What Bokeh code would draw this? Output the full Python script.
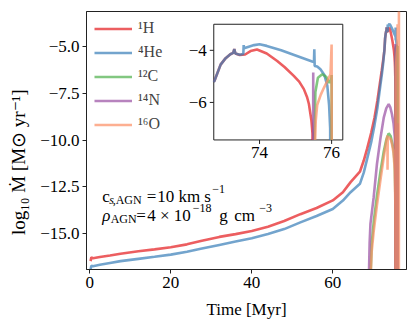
import math
from bokeh.plotting import figure
from bokeh.models import Range1d, FixedTicker, Label, Legend, LegendItem
from bokeh.embed import file_html
from bokeh.resources import INLINE

# ---------------- data ----------------
species = ["¹H", "⁴He", "¹²C", "¹⁴N", "¹⁶O"]
colors = ["#e41a1c", "#377eb8", "#4daf4a", "#984ea3", "#fc8d62"]

t_H = [0.2, 0.4, 0.8, 2.5, 5, 7.6, 12, 16, 20, 24, 27.4, 32, 36, 40, 44, 48, 52, 56, 60, 62.5,
       64.4, 66.7, 67.65, 68.5, 69.5, 70.3, 71.0, 71.6, 72.1, 72.45, 72.75, 72.92, 73.06, 73.19,
       73.27, 73.3, 73.33, 73.45, 73.6, 73.75, 73.93, 74.2, 74.49, 74.7, 74.95, 75.1, 75.23,
       75.32, 75.37, 75.44, 75.47, 75.49]
m_H = [-16.5, -16.3, -16.35, -16.28, -16.2, -16.1, -15.97, -15.87, -15.76, -15.6, -15.42, -15.2,
       -15.05, -14.88, -14.65, -14.35, -13.98, -13.65, -13.24, -12.8, -12.26, -11.7, -11.1, -10.45,
       -9.6, -8.8, -7.9, -7.0, -6.25, -5.7, -5.17, -4.55, -4.3, -4.15, -4.1, -3.95, -4.12, -4.18,
       -4.16, -4.03, -3.97, -4.12, -4.41, -4.65, -4.98, -5.2, -5.49, -5.8, -6.06, -6.7, -7.2, -17.5]

t_He = [0.2, 0.4, 0.8, 2.5, 5, 7.6, 12, 16, 20, 24, 27.4, 32, 36, 40, 44, 48, 52, 56, 60, 62.5,
        64.4, 66.7, 67.65, 68.5, 69.5, 70.3, 71.0, 71.6, 72.1, 72.45, 72.75, 72.92, 73.06, 73.19,
        73.27, 73.3, 73.33, 73.45, 73.55, 73.56, 73.57, 73.7, 73.85, 74.0, 74.2, 74.6, 75.0,
        75.46, 75.51, 75.52, 75.53, 75.6, 75.69, 75.8, 75.88, 75.93, 75.96, 75.98]
m_He = [-16.95, -16.75, -16.78, -16.7, -16.6, -16.5, -16.38, -16.27, -16.15, -16.0, -15.84, -15.63,
        -15.45, -15.27, -15.05, -14.78, -14.42, -14.08, -13.7, -13.25, -12.8, -12.35, -11.75, -11.0,
        -10.1, -9.2, -8.3, -7.3, -6.5, -5.85, -5.17, -4.55, -4.3, -4.15, -4.1, -3.95, -4.12, -4.17,
        -4.14, -3.8, -3.92, -3.86, -3.8, -3.77, -3.83, -4.0, -4.2, -4.43, -4.45, -3.96, -4.6, -4.62,
        -4.73, -4.95, -5.35, -6.1, -7.0, -17.5]

t_C = [69.3, 69.6, 70.1, 70.9, 71.8, 72.6, 73.2, 73.8, 74.3, 74.6, 75.0, 75.3, 75.45, 75.5,
       75.52, 75.55, 75.62, 75.74, 75.85, 75.93, 75.99, 76.0, 76.01]
m_C = [-17.5, -15.6, -14.4, -13.0, -11.65, -10.6, -10.0, -9.64, -9.8, -10.1, -10.5, -11.3, -13.0,
       -17.5, -7.6, -5.6, -5.05, -4.92, -5.02, -5.25, -5.1, -4.95, -17.5]

t_N = [68.9, 69.1, 69.3, 70.1, 70.9, 71.8, 72.6, 73.2, 73.8, 74.2, 74.6, 75.0, 75.3, 75.45,
       75.48, 75.49, 75.495, 75.99, 76.0, 76.01]
m_N = [-17.5, -15.5, -14.5, -13.07, -11.3, -9.86, -8.78, -8.3, -8.07, -8.25, -8.6, -9.1, -9.8,
       -11.5, -17.5, -4.85, -17.5, -17.5, -9.1, -17.5]

t_O = [69.3, 69.6, 70.1, 70.9, 71.8, 72.6, 73.2, 73.45, 73.5, 73.52, 73.56, 73.8, 74.3, 74.6,
       75.0, 75.3, 75.45, 75.5, 75.53, 75.56, 75.6, 75.7, 75.79, 75.9, 75.97, 76.0, 76.01,
       76.32, 76.33]
m_O = [-17.5, -16.0, -14.9, -13.5, -12.1, -10.9, -10.1, -9.8, -9.76, -11.6, -10.0, -9.85, -9.95,
       -10.2, -10.7, -11.6, -13.5, -17.5, -8.0, -6.7, -6.1, -5.7, -5.43, -5.12, -4.92, -3.78,
       -17.5, -17.5, -2.0]

series_t = [t_H, t_He, t_C, t_N, t_O]
series_m = [m_H, m_He, m_C, m_N, m_O]

x_ticks = [0, 20, 40, 60]
x_tick_labels = ["0", "20", "40", "60"]
y_ticks = [-15, -12.5, -10, -7.5, -5]
y_tick_labels = ["−15.0", "−12.5", "−10.0", "−7.5", "−5.0"]
ix_ticks = [74, 76]
ix_tick_labels = ["74", "76"]
iy_ticks = [-6, -4]
iy_tick_labels = ["−6", "−4"]

FONT = "Liberation Serif"
INK = "#222222"

# inset view limits and its placement inside the main axes (main data units)
IX0, IX1, IY0, IY1 = 72.73, 76.31, -7.44, -3.0
PX0, PX1, PY0, PY1 = 30.62, 62.47, -9.995, -3.785


def clip_polyline(xs, ys, x0, x1, y0, y1):
    """Liang-Barsky clipping of a polyline to a rectangle; NaN separates pieces."""
    ox, oy = [], []
    last = None
    for i in range(len(xs) - 1):
        ax, ay, bx, by = xs[i], ys[i], xs[i + 1], ys[i + 1]
        dx, dy = bx - ax, by - ay
        t0, t1, ok = 0.0, 1.0, True
        for pp, qq in ((-dx, ax - x0), (dx, x1 - ax), (-dy, ay - y0), (dy, y1 - ay)):
            if pp == 0:
                if qq < 0:
                    ok = False
                    break
            else:
                r = qq / pp
                if pp < 0:
                    if r > t1:
                        ok = False
                        break
                    t0 = max(t0, r)
                else:
                    if r < t0:
                        ok = False
                        break
                    t1 = min(t1, r)
        if not ok:
            last = None
            continue
        sx, sy = ax + t0 * dx, ay + t0 * dy
        ex, ey = ax + t1 * dx, ay + t1 * dy
        if last is None or abs(last[0] - sx) > 1e-12 or abs(last[1] - sy) > 1e-12:
            if ox:
                ox.append(float("nan"))
                oy.append(float("nan"))
            ox.append(sx)
            oy.append(sy)
        ox.append(ex)
        oy.append(ey)
        last = (ex, ey) if t1 == 1.0 else None
    return ox, oy


# ---------------- main figure ----------------
p = figure(frame_width=320, frame_height=258, x_range=Range1d(-0.8, 78.2),
           y_range=Range1d(-16.95, -3.1), output_backend="svg", toolbar_location=None,
           min_border_left=86, min_border_right=8, min_border_top=11, min_border_bottom=51)
p.grid.visible = False
p.outline_line_color = INK
p.outline_line_width = 1

p.xaxis.ticker = FixedTicker(ticks=x_ticks)
p.yaxis.ticker = FixedTicker(ticks=y_ticks)
p.xaxis.major_label_overrides = {v: s for v, s in zip(x_ticks, x_tick_labels)}
p.yaxis.major_label_overrides = {v: s for v, s in zip(y_ticks, y_tick_labels)}
for ax in (p.xaxis[0], p.yaxis[0]):
    ax.major_tick_in = 0
    ax.major_tick_out = 4
    ax.minor_tick_out = 0
    ax.minor_tick_in = 0
    ax.axis_line_color = INK
    ax.major_tick_line_color = INK
    ax.major_label_text_font = FONT
    ax.major_label_text_font_size = "17px"
    ax.major_label_text_color = "black"
    ax.major_label_standoff = 3
    ax.axis_label_text_font = FONT
    ax.axis_label_text_font_style = "normal"
    ax.axis_label_text_font_size = "17px"
    ax.axis_label_text_color = "black"
p.xaxis.axis_label = "Time [Myr]"
p.yaxis.axis_label = "log₁₀ Ṁ  [M⊙  yr⁻¹]\u2003\u2003"
p.yaxis.axis_label_text_font_size = "19px"
p.xaxis.axis_label_standoff = 9
p.yaxis.axis_label_standoff = 8

items = []
for name, col, tt, mm in zip(species, colors, series_t, series_m):
    r = p.line(tt, mm, line_color=col, line_alpha=0.7, line_width=2.6)
    items.append(LegendItem(label=name, renderers=[r]))

legend = Legend(items=items, location="top_left", margin=0, padding=8, spacing=6,
                glyph_width=38, glyph_height=17, label_height=17, label_standoff=6,
                label_text_font=FONT, label_text_font_size="16px",
                background_fill_alpha=0, border_line_alpha=0)
p.add_layout(legend)

# annotation text pieces (anchor in data units, offsets in px)
X0 = 3.06
Y1 = -13.03
Y2 = -14.05
pieces = [
    ("c", Y1, 0, 0, "17px", "normal"),
    ("s", Y1, 7, -3.5, "12px", "italic"),
    (",AGN", Y1, 10.5, -3.5, "12px", "normal"),
    ("=", Y1, 44.5, 0, "17px", "normal"),
    ("10 km s", Y1, 55, 0, "17px", "normal"),
    ("−1", Y1, 110, 7.5, "12px", "normal"),
    ("ρ", Y2, 0, 0, "17px", "italic"),
    ("AGN", Y2, 8.5, -3.5, "12px", "normal"),
    ("=", Y2, 34, 0, "17px", "normal"),
    ("4 × 10", Y2, 45, 0, "17px", "normal"),
    ("−18", Y2, 90.5, 7.5, "12px", "normal"),
    ("g", Y2, 117, 0, "17px", "normal"),
    ("cm", Y2, 132, 0, "17px", "normal"),
    ("−3", Y2, 157, 7.5, "12px", "normal"),
]
for txt, yy, xo, yo, sz, st in pieces:
    p.add_layout(Label(x=X0, y=yy, x_offset=xo, y_offset=yo, text=txt,
                       text_font=FONT, text_font_size=sz, text_font_style=st,
                       text_color="black", text_baseline="alphabetic", text_align="left"))

# ---------------- inset (sub-coordinates inside the main axes) ----------------
sub = p.subplot(x_source=Range1d(IX0, IX1), y_source=Range1d(IY0, IY1),
                x_target=Range1d(PX0, PX1), y_target=Range1d(PY0, PY1))

sub.quad(left=[IX0], right=[IX1], bottom=[IY0], top=[IY1], fill_color="white",
         line_color=INK, line_width=1)
for col, tt, mm in zip(colors, series_t, series_m):
    cx, cy = clip_polyline(tt, mm, IX0, IX1, IY0, IY1)
    sub.line(cx, cy, line_color=col, line_alpha=0.7, line_width=2.6)

# inset ticks (outward, 4 px) and labels
sub.ray(x=ix_ticks, y=[IY0] * len(ix_ticks), length=4, length_units="screen",
        angle=-math.pi / 2, line_color=INK, line_width=1)
sub.ray(x=[IX0] * len(iy_ticks), y=iy_ticks, length=4, length_units="screen",
        angle=math.pi, line_color=INK, line_width=1)
sub.text(x=ix_ticks, y=[IY0] * len(ix_ticks), text=ix_tick_labels, y_offset=7,
         text_align="center", text_baseline="top", text_font="Liberation Serif",
         text_font_size="17px", text_color="black")
sub.text(x=[IX0] * len(iy_ticks), y=iy_ticks, text=iy_tick_labels, x_offset=-7,
         text_align="right", text_baseline="middle", text_font="Liberation Serif",
         text_font_size="17px", text_color="black")

open("out.html", "w").write(file_html(p, INLINE))
